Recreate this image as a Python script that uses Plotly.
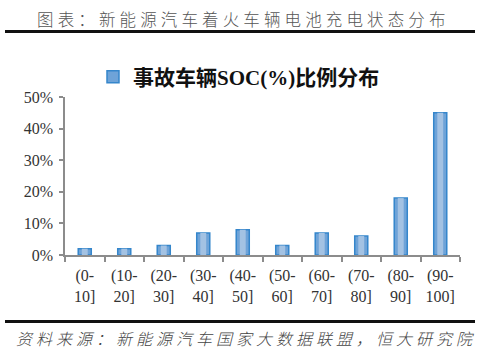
import plotly.graph_objects as go

categories = ["(0-<br>10]", "(10-<br>20]", "(20-<br>30]", "(30-<br>40]", "(40-<br>50]",
              "(50-<br>60]", "(60-<br>70]", "(70-<br>80]", "(80-<br>90]", "(90-<br>100]"]
values = [2, 2, 3, 7, 8, 3, 7, 6, 18, 45]
y_ticks = [0, 10, 20, 30, 40, 50]
y_tick_labels = ["0%", "10%", "20%", "30%", "40%", "50%"]
series_name = "事故车辆SOC(%)比例分布"
title_text = "图表：新能源汽车着火车辆电池充电状态分布"
source_text = "资料来源：新能源汽车国家大数据联盟，恒大研究院"

W, H = 480, 354
L, R, T, B = 65, 20, 97, 99
pw, ph = W - L - R, H - T - B

def px(x):
    return (x - L) / pw

def py(y):
    return (H - B - y) / ph

sp = "\u2005"

fig = go.Figure()
fig.add_trace(go.Bar(
    x=categories, y=values, name=series_name, width=0.33,
    marker=dict(color="#6ea3d8", line=dict(color="#3586cb", width=1.5)),
    showlegend=True,
))
fig.add_trace(go.Bar(
    x=categories, y=values, name=series_name, width=0.15,
    marker=dict(color="#a3c2e3", line=dict(width=0)),
    showlegend=False, hoverinfo="skip",
))

fig.update_layout(
    width=W, height=H, margin=dict(l=L, r=R, t=T, b=B),
    paper_bgcolor="white", plot_bgcolor="white",
    barmode="overlay",
    font=dict(family="Liberation Serif, Noto Sans CJK SC", size=16, color="#333"),
    showlegend=True,
    legend=dict(orientation="h", x=px(93), xanchor="left", y=py(77), yanchor="middle",
                font=dict(family="Liberation Serif, Noto Sans CJK SC", size=21, color="#111", weight="bold"),
                bgcolor="rgba(0,0,0,0)"),
    xaxis=dict(showline=True, linecolor="#8c8c8c", linewidth=1.5, ticks="outside",
               tickson="boundaries", ticklen=5, tickcolor="#8c8c8c", tickwidth=1.5,
               showgrid=False, tickfont=dict(size=16, color="#333"), ticklabelstandoff=5),
    yaxis=dict(range=[0, 50], tickvals=y_ticks, ticktext=y_tick_labels, showline=True,
               linecolor="#8c8c8c", linewidth=1.5, ticks="outside", ticklen=4,
               tickcolor="#8c8c8c", tickwidth=1.5, showgrid=False, zeroline=False,
               tickfont=dict(size=16, color="#333"), ticklabelstandoff=3),
)

fig.add_annotation(text=sp.join(title_text), xref="paper", yref="paper",
                   x=px(241), y=py(19), xanchor="center", yanchor="middle", showarrow=False,
                   font=dict(family="Noto Sans CJK SC", size=16.5, color="#555", weight=300))
fig.add_annotation(text=sp.join(source_text), xref="paper", yref="paper",
                   x=px(245), y=py(338), xanchor="center", yanchor="middle", showarrow=False,
                   font=dict(family="Noto Sans CJK SC", size=16, color="#444", style="italic", weight=300))

fig.add_shape(type="line", xref="paper", yref="paper", x0=px(5), x1=px(475), y0=py(31.5), y1=py(31.5),
              line=dict(color="#111", width=3))
fig.add_shape(type="line", xref="paper", yref="paper", x0=px(5), x1=px(475), y0=py(321.5), y1=py(321.5),
              line=dict(color="#111", width=3))

fig.write_html("out.html")
